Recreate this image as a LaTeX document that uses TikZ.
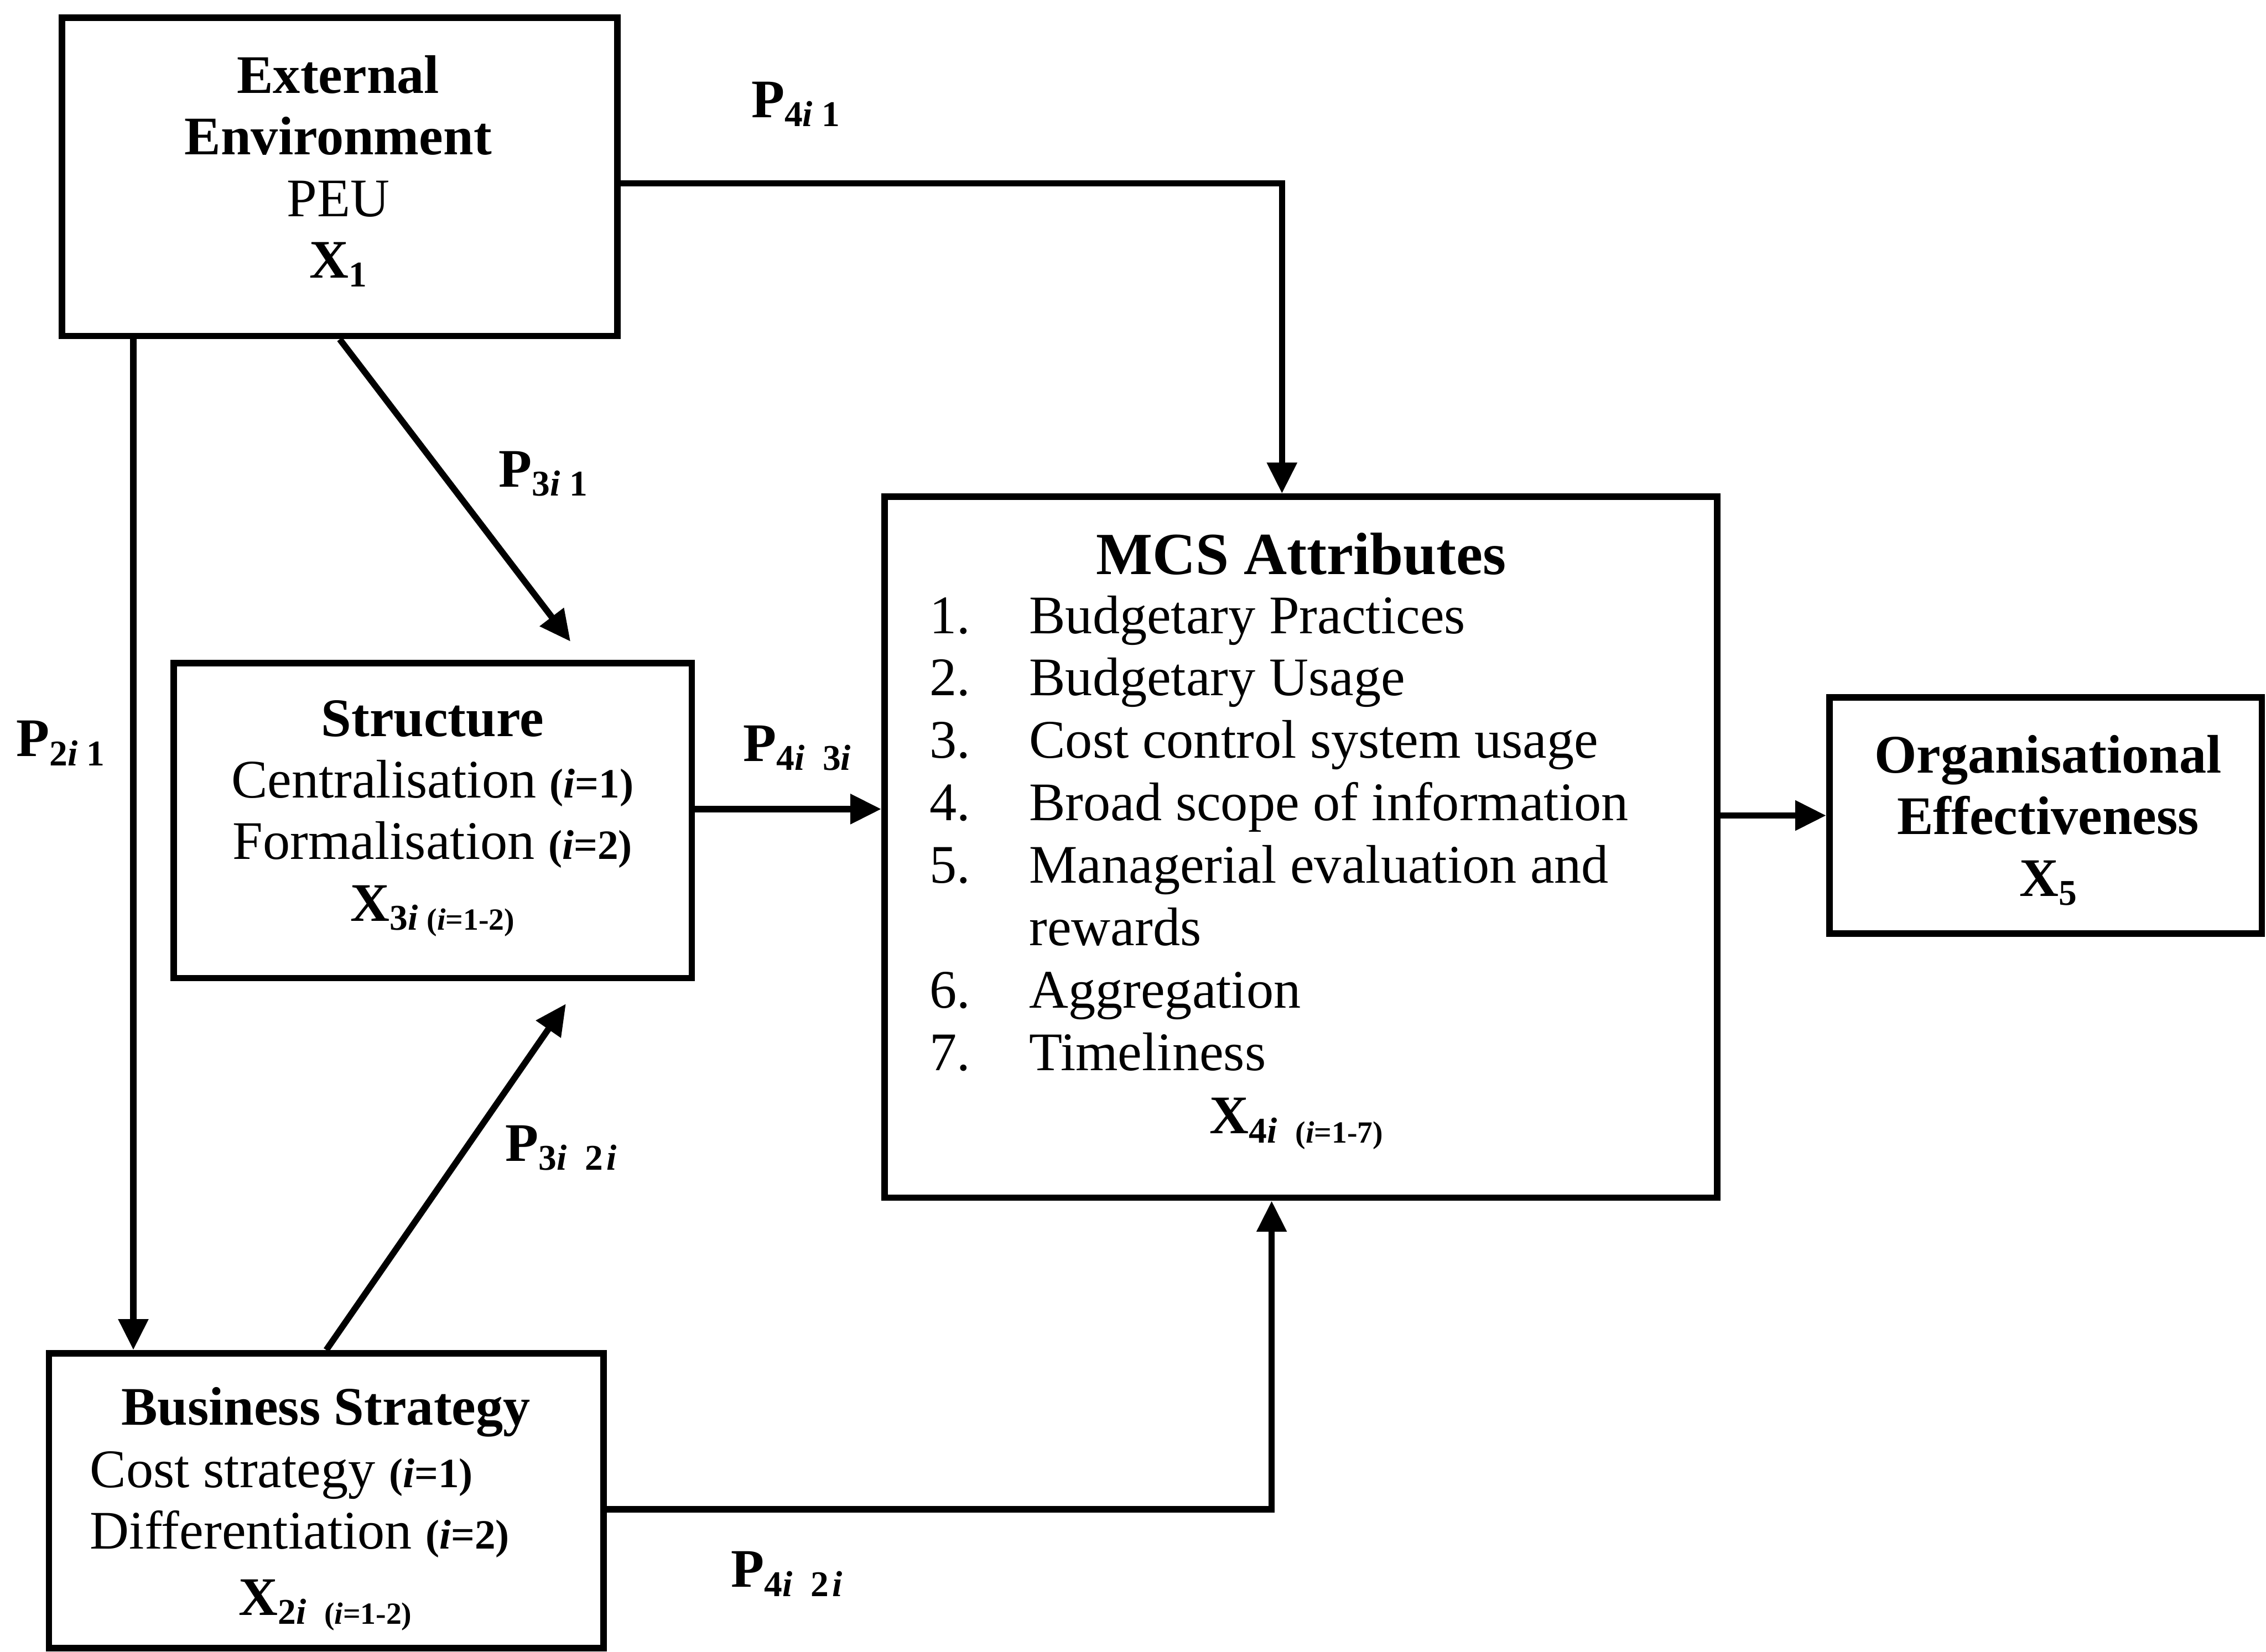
\documentclass[tikz,border=0pt]{standalone}
\usepackage{fontspec}
\setmainfont{Liberation Serif}
\usetikzlibrary{arrows.meta}
% type sizes
\newcommand\mainsz{\fontsize{30}{34}\selectfont}
\newcommand\listsz{\fontsize{30}{34.5}\selectfont}
\newcommand\headsz{\fontsize{33}{38}\selectfont}
\newcommand\inlsz{\fontsize{23}{23}\selectfont}
\newcommand\subsz{\fontsize{20}{20}\selectfont}
\newcommand\parsz{\fontsize{17}{17}\selectfont}
\newcommand\lblsz{\fontsize{20}{20}\selectfont}
% lowered index and the running variable
\newcommand\lowsub[1]{\raisebox{-5pt}{#1}}
\newcommand\ivar{\textit{i}}
\newcommand\pathlbl[1]{P\lowsub{\lblsz #1}}
\newcommand\numitem[1]{\makebox[1.93cm][l]{#1}}
\begin{document}
\begin{tikzpicture}[x=1cm,y=1cm]
\tikzset{
  box/.style={draw, rectangle, line width=3.6pt, inner sep=0pt},
  arr/.style={line width=3.5pt, -{Triangle[length=6mm,width=5.6mm]}},
  txt/.style={inner sep=0pt, font=\mainsz, align=center},
  lbl/.style={inner sep=0pt, anchor=base west, font=\mainsz\bfseries},
}
\fill[white] (0,0) rectangle (43.96,-32.05);
\useasboundingbox (0,0) rectangle (43.96,-32.05);

% boxes
\node[box, minimum width=10.78cm, minimum height=6.18cm] (ee) at (6.59,-3.43) {};
\node[box, minimum width=10.05cm, minimum height=6.11cm] (st) at (8.395,-15.925) {};
\node[box, minimum width=16.15cm, minimum height=13.60cm] (mcs) at (25.235,-16.44) {};
\node[box, minimum width=8.39cm, minimum height=4.59cm] (oe) at (39.685,-15.825) {};
\node[box, minimum width=10.76cm, minimum height=5.72cm] (bs) at (6.33,-29.12) {};

% box texts
\node[txt, anchor=north] (eetxt) at (6.56,-1.07)
  {\textbf{External}\\\textbf{Environment}\\PEU\\\textbf{X\lowsub{\subsz 1}}};
\node[txt, anchor=north] (sttxt) at (8.39,-13.58)
  {\textbf{Structure}\\Centralisation {\inlsz\bfseries(\ivar=1)}\\Formalisation {\inlsz\bfseries(\ivar=2)}\\
   \textbf{X\lowsub{\subsz 3\ivar\ {\parsz(\ivar=1-2)}}}};
\node[txt, anchor=base] (mcshead) at (25.24,-11.15) {\headsz\bfseries MCS Attributes};
\node[txt, anchor=north west, align=left, font=\listsz] (mcslist) at (18.03,-11.55)
  {\numitem{1.}Budgetary Practices\\
   \numitem{2.}Budgetary Usage\\
   \numitem{3.}Cost control system usage\\
   \numitem{4.}Broad scope of information\\
   \numitem{5.}Managerial evaluation and\\
   \hspace*{1.93cm}rewards\\
   \numitem{6.}Aggregation\\
   \numitem{7.}Timeliness};
\node[txt, anchor=base] (mcsvar) at (25.15,-22.00)
  {\textbf{X\lowsub{\subsz 4\ivar\ \ {\parsz(\ivar=1-7)}}}};
\node[txt, anchor=north] (oetxt) at (39.73,-14.26)
  {\textbf{Organisational}\\\textbf{Effectiveness}\\\textbf{X\lowsub{\subsz 5}}};
\node[txt, anchor=base] (bshead) at (6.32,-27.65) {\textbf{Business Strategy}};
\node[txt, anchor=north west, align=left] (bslist) at (1.74,-28.16)
  {Cost strategy {\inlsz\bfseries(\ivar=1)}\\Differentiation {\inlsz\bfseries(\ivar=2)}};
\node[txt, anchor=base] (bsvar) at (6.31,-31.34)
  {\textbf{X\lowsub{\subsz 2\ivar\ \ {\parsz(\ivar=1-2)}}}};

% connectors
\draw[arr] ([yshift=-0.13cm]ee.east) -| ([xshift=-0.365cm]mcs.north);
\draw[arr, shorten >=0.45cm] (ee.south) -- ([xshift=2.945cm]st.north);
\coordinate (eeleg) at ([xshift=1.45cm]ee.south west);
\draw[arr] (eeleg) -- (eeleg |- bs.north);
\draw[arr, shorten >=0.53cm] (bs.north) -- ([xshift=2.885cm]st.south);
\coordinate (stout) at ([yshift=0.225cm]st.east);
\draw[arr] (stout) -- (stout -| mcs.west);
\draw[arr] (mcs.east |- oe.west) -- (oe.west);
\draw[arr] ([yshift=-0.17cm]bs.east) -| ([xshift=-0.565cm]mcs.south);

% path labels
\node[lbl] (p41) at (14.57,-2.28) {\pathlbl{4\ivar\ 1}};
\node[lbl] (p31) at (9.67,-9.45) {\pathlbl{3\ivar\ 1}};
\node[lbl] (p21) at (0.31,-14.68) {\pathlbl{2\ivar\ 1}};
\node[lbl] (p43) at (14.41,-14.77) {\pathlbl{4\ivar\ \ 3\ivar}};
\node[lbl] (p32) at (9.80,-22.53) {\pathlbl{3\ivar\ \ 2\kern2pt\ivar}};
\node[lbl] (p42) at (14.18,-30.80) {\pathlbl{4\ivar\ \ 2\kern2pt\ivar}};
\end{tikzpicture}
\end{document}
